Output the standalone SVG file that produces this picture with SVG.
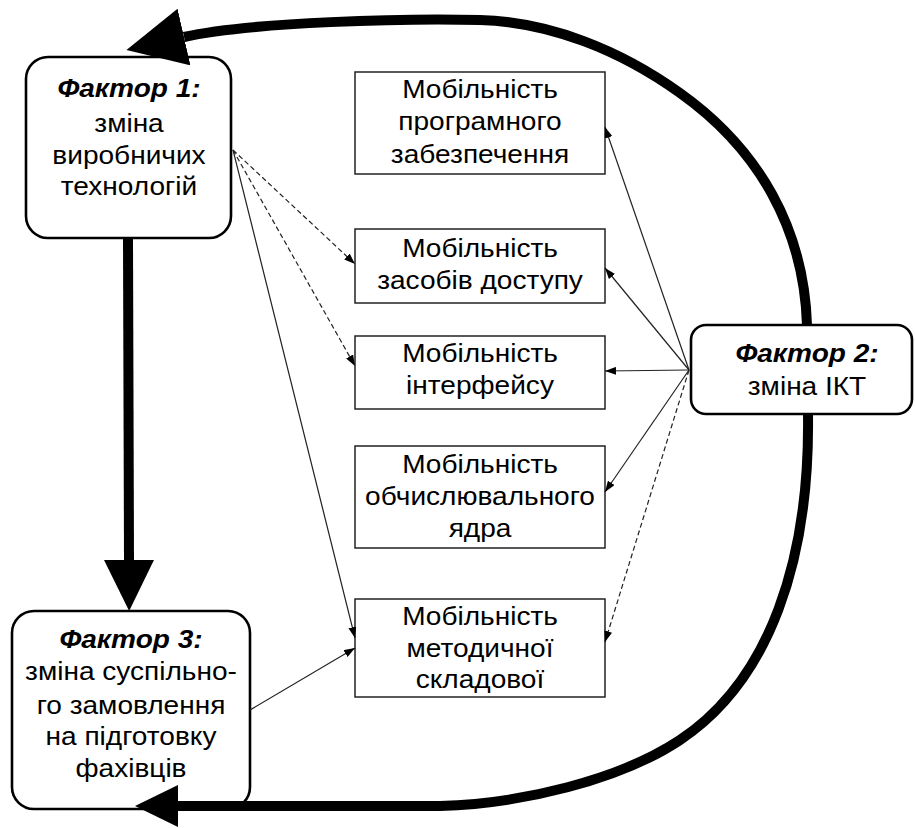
<svg xmlns="http://www.w3.org/2000/svg" width="915" height="828" viewBox="0 0 915 828">
<style>
.bg{fill:#fff}
.rbox{fill:#fff;stroke:#000;stroke-width:2.6}
.box{fill:#fff;stroke:#222;stroke-width:1.5}
.t{font-family:"Liberation Sans",Arial,sans-serif;font-size:25.5px;fill:#000;text-anchor:middle}
.h{font-weight:bold;font-style:italic}
.thick{fill:none;stroke:#000;stroke-width:10}
.thin{fill:none;stroke:#222;stroke-width:1.2;marker-end:url(#sm)}
.dash{stroke-dasharray:5,3}
</style>
<defs>
<marker id="sm" markerUnits="userSpaceOnUse" viewBox="0 0 11 8" markerWidth="11" markerHeight="8" refX="11" refY="4" orient="auto"><path d="M0,0 L11,4 L0,8 Z" fill="#000"/></marker>
<marker id="bigV" markerUnits="userSpaceOnUse" viewBox="0 0 51 50" markerWidth="51" markerHeight="50" refX="0" refY="25" orient="auto"><path d="M0,0 L51,25 L0,50 Z" fill="#000"/></marker>
<marker id="bigT" markerUnits="userSpaceOnUse" viewBox="0 0 59 58" markerWidth="59" markerHeight="58" refX="0" refY="29" orient="auto"><path d="M0,0 L59,29 L0,58 Z" fill="#000"/></marker>
<marker id="bigB" markerUnits="userSpaceOnUse" viewBox="0 0 43 42" markerWidth="43" markerHeight="42" refX="0" refY="21" orient="auto"><path d="M0,0 L43,21 L0,42 Z" fill="#000"/></marker>
</defs>
<rect class="bg" x="0" y="0" width="915" height="828"/>

<g id="factor1">
<rect class="rbox" x="26" y="57" width="205" height="181" rx="22"/>
<text class="t" transform="matrix(1.1 0 0 1 129 0)"><tspan class="h" x="0" y="97">Фактор 1:</tspan><tspan x="0" y="132">зміна</tspan><tspan x="0" y="164">виробничих</tspan><tspan x="0" y="195">технологій</tspan></text>
</g>

<g id="factor2">
<rect class="rbox" x="691" y="325" width="221" height="89" rx="15"/>
<text class="t" transform="matrix(1.1 0 0 1 807 0)"><tspan class="h" x="0" y="362">Фактор 2:</tspan><tspan x="0" y="395">зміна ІКТ</tspan></text>
</g>

<g id="factor3">
<rect class="rbox" x="12" y="611" width="238" height="198" rx="22"/>
<text class="t" transform="matrix(1.1 0 0 1 131 0)"><tspan class="h" x="0" y="648">Фактор 3:</tspan><tspan x="0" y="680">зміна суспільно-</tspan><tspan x="0" y="714">го замовлення</tspan><tspan x="0" y="745">на підготовку</tspan><tspan x="0" y="777">фахівців</tspan></text>
</g>

<g id="mob1">
<rect class="box" x="355" y="72" width="250" height="102"/>
<text class="t" transform="matrix(1.1 0 0 1 480 0)"><tspan x="0" y="98">Мобільність</tspan><tspan x="0" y="130">програмного</tspan><tspan x="0" y="163">забезпечення</tspan></text>
</g>

<g id="mob2">
<rect class="box" x="355" y="229" width="250" height="74"/>
<text class="t" transform="matrix(1.1 0 0 1 480 0)"><tspan x="0" y="257">Мобільність</tspan><tspan x="0" y="289">засобів доступу</tspan></text>
</g>

<g id="mob3">
<rect class="box" x="355" y="336" width="250" height="73"/>
<text class="t" transform="matrix(1.1 0 0 1 480 0)"><tspan x="0" y="362">Мобільність</tspan><tspan x="0" y="394">інтерфейсу</tspan></text>
</g>

<g id="mob4">
<rect class="box" x="355" y="446" width="250" height="102"/>
<text class="t" transform="matrix(1.1 0 0 1 480 0)"><tspan x="0" y="473">Мобільність</tspan><tspan x="0" y="505">обчислювального</tspan><tspan x="0" y="537">ядра</tspan></text>
</g>

<g id="mob5">
<rect class="box" x="355" y="599" width="250" height="98"/>
<text class="t" transform="matrix(1.1 0 0 1 480 0)"><tspan x="0" y="625">Мобільність</tspan><tspan x="0" y="657">методичної</tspan><tspan x="0" y="688">складової</tspan></text>
</g>

<g id="connectors">
<path class="thick" d="M807,325 C804,230 760,150 680,93 C620,50 550,22 480,20 C410,18 250,22 184,37" marker-end="url(#bigT)"/>
<path class="thick" d="M808,414 C810,560 770,680 680,740 C620,780 520,804 440,806 L178,806" marker-end="url(#bigB)"/>
<path class="thick" d="M128,238 L129,560" marker-end="url(#bigV)"/>
<path class="thin dash" d="M233,150 L355,264"/>
<path class="thin dash" d="M233,150 L355,366"/>
<path class="thin" d="M233,150 L355,638"/>
<path class="thin" d="M250,710 L355,648"/>
<path class="thin" d="M689,370 L605,127"/>
<path class="thin" d="M689,370 L605,268"/>
<path class="thin" d="M689,370 L605,371"/>
<path class="thin" d="M689,370 L605,492"/>
<path class="thin dash" d="M689,370 L605,642"/>
</g>
</svg>
